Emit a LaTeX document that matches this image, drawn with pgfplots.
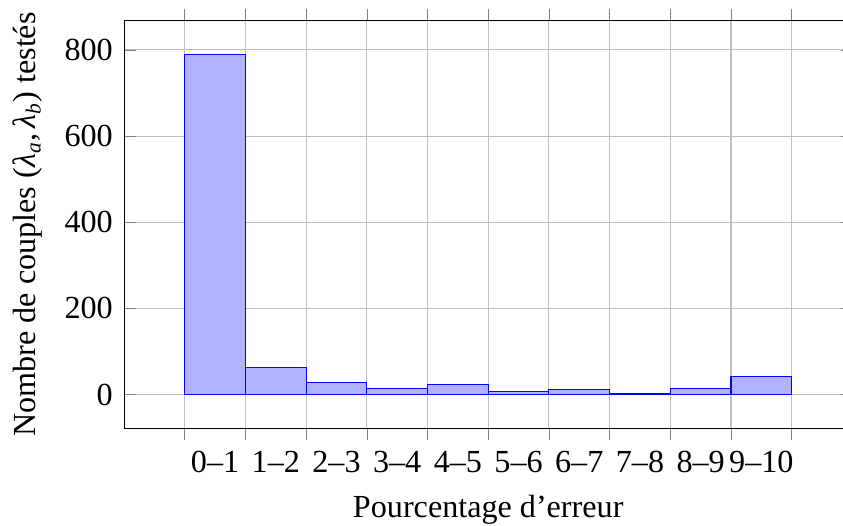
\documentclass[12pt,border=0pt]{standalone}
\usepackage{fontspec}
\setmainfont{Liberation Serif}
\usepackage{pgfplots}
\pgfplotsset{compat=1.18}

\begin{document}
\begin{tikzpicture}
\begin{axis}[
  name=ax,
  scale only axis,
  width=271.8pt, height=152.5pt,
  ybar interval,
  xmin=-1, xmax=11,
  ymin=-79, ymax=869,
  xtick={0,...,10},
  x tick label as interval,
  xticklabels={0--1,1--2,2--3,3--4,4--5,5--6,6--7,7--8,8--9,9--10},
  ytick={0,200,400,600,800},
  grid=major,
  xtick align=outside,
  ytick align=inside,
  /pgf/number format/assume math mode=true,
  xlabel={Pourcentage d’erreur},
  ylabel={Nombre de couples (\textit{λ}\textsubscript{\textit{a}},\,\textit{λ}\textsubscript{\textit{b}}) testés},
]
\addplot[draw=blue, fill=blue!30] coordinates {
  (0,790) (1,62) (2,29) (3,15) (4,23) (5,7) (6,12) (7,2) (8,14) (9,42) (10,42)
};
\end{axis}
\pgfresetboundingbox
\useasboundingbox ([xshift=-46.3pt,yshift=-36.2pt]ax.south west) rectangle ([xshift=268.3pt,yshift=7.5pt]ax.north west);
\end{tikzpicture}
\end{document}
